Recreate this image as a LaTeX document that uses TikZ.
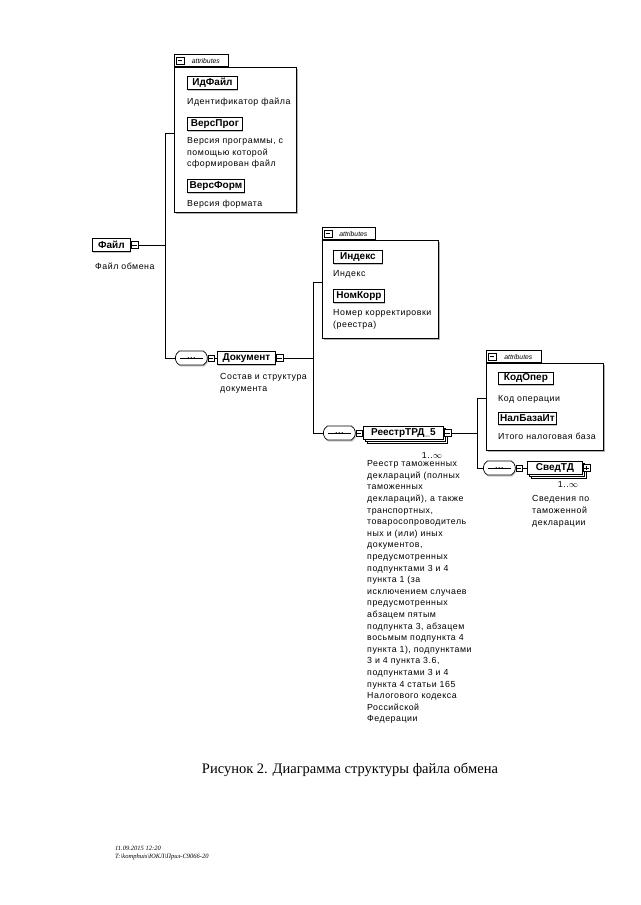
\documentclass[tikz,border=0pt]{standalone}
\usepackage{fontspec}
\setmainfont{Liberation Sans}
\newfontfamily\serifcap{Liberation Serif}
\newfontfamily\descfamily{Liberation Sans}[LetterSpace=6]
\usetikzlibrary{shapes.misc,shadows}
\newcommand\descfont{\descfamily\fontsize{8.8}{11.6}\selectfont}
\newcommand\elemfont{\bfseries\fontsize{10}{11}\selectfont}
\newcommand\tabfont{\itshape\fontsize{6.8}{8}\selectfont}
\begin{document}
\begin{tikzpicture}[x=1pt,y=-1pt,
  conn/.style={line width=0.7pt},
  elem/.style={draw, line width=0.8pt, fill=white, font=\elemfont, inner sep=0pt,
    minimum height=13pt, anchor=west,
    drop shadow={shadow xshift=1pt, shadow yshift=-1.5pt, fill=black!45}},
  multi/.style={draw, line width=0.8pt, fill=white, font=\elemfont, inner sep=0pt,
    minimum height=13pt, anchor=west,
    double copy shadow={shadow xshift=2pt, shadow yshift=-2pt}},
  attrnode/.style={draw, line width=0.9pt, fill=white, font=\elemfont, inner sep=0pt,
    minimum height=12.5pt, anchor=west,
    drop shadow={shadow xshift=1pt, shadow yshift=-1.5pt, fill=black!45}},
  desc/.style={font=\descfont, align=left, anchor=north west, inner sep=0pt},
  grp/.style={draw, line width=0.7pt, fill=white, inner sep=0pt, anchor=north west,
    drop shadow={shadow xshift=1.5pt, shadow yshift=-1.5pt, fill=black!60}},
  grptab/.style={draw, line width=0.7pt, fill=white, inner sep=0pt, anchor=south west,
    minimum height=12pt, font=\tabfont},
  btn/.style={draw, line width=0.5pt, fill=white, minimum size=7pt, inner sep=0pt, anchor=west},
  minusbtn/.style={btn, path picture={\draw ([xshift=1.3pt]path picture bounding box.west) -- ([xshift=-1.3pt]path picture bounding box.east);}},
  plusbtn/.style={btn, path picture={\draw ([xshift=1.3pt]path picture bounding box.west) -- ([xshift=-1.3pt]path picture bounding box.east);
      \draw ([yshift=-1.3pt]path picture bounding box.north) -- ([yshift=1.3pt]path picture bounding box.south);}},
  seq/.style={rounded rectangle, rounded rectangle arc length=120, draw, line width=0.7pt, fill=white,
    minimum width=32pt, minimum height=14pt, inner sep=0pt, anchor=west,
    drop shadow={shadow xshift=1pt, shadow yshift=-1.5pt, fill=black!40}},
  mult/.style={font=\descfont, inner sep=0pt}
]
\useasboundingbox[fill=white] (0,0) rectangle (640,905);

% ---------- root element
\node[elem, minimum width=38pt] (file) at (92,245) {Файл};
\node[minusbtn] (fileb) at (file.east) {};
\node[desc] (filed) at (95,262.5) {Файл обмена};

% ---------- attributes of Файл
\node[grp, minimum width=122pt, minimum height=145pt] (ag1) at (174,67) {};
\node[grptab, minimum width=54pt] (ag1t) at (ag1.north west) {\hspace*{9pt}attributes};
\node[minusbtn, minimum size=7.5pt] (ag1i) at ([xshift=2pt]ag1t.west) {};
\node[attrnode, minimum width=50pt] (idf) at (187,83) {ИдФайл};
\node[desc] (idfd) at (187,97.5) {Идентификатор файла};
\node[attrnode, minimum width=55pt] (vp) at (187,124) {ВерсПрог};
\node[desc] (vpd) at (187,137.5) {Версия программы, с\\помощью которой\\сформирован файл};
\node[attrnode, minimum width=57pt] (vf) at (187,186) {ВерсФорм};
\node[desc] (vfd) at (187,199.5) {Версия формата};

\coordinate (v1t) at (165,133);
\coordinate (v1b) at (165,358);

% ---------- Документ
\node[seq] (seq1) at (175,358) {};
\node[minusbtn, minimum size=6pt] (seq1b) at (seq1.east) {};
\node[elem, minimum width=58pt] (doc) at (217,358) {Документ};
\node[minusbtn] (docb) at (doc.east) {};
\node[desc] (docd) at (220,373.5) {Состав и структура\\документа};

% ---------- attributes of Документ
\node[grp, minimum width=116pt, minimum height=98pt] (ag2) at (322,240) {};
\node[grptab, minimum width=53pt] (ag2t) at (ag2.north west) {\hspace*{9pt}attributes};
\node[minusbtn, minimum size=7.5pt] (ag2i) at ([xshift=2pt]ag2t.west) {};
\node[attrnode, minimum width=49pt] (idx) at (333,257) {Индекс};
\node[desc] (idxd) at (333,270.5) {Индекс};
\node[attrnode, minimum width=51pt] (nk) at (333,296) {НомКорр};
\node[desc] (nkd) at (333,309.5) {Номер корректировки\\(реестра)};

\coordinate (v2t) at (313,282);
\coordinate (v2b) at (313,433);

% ---------- РеестрТРД_5
\node[seq] (seq2) at (323,433) {};
\node[minusbtn, minimum size=6pt] (seq2b) at (seq2.east) {};
\node[multi, minimum width=80pt] (reestr) at (363,433) {РеестрТРД\_5};
\node[minusbtn] (reestrb) at (reestr.east) {};
\node[mult] (reestrm) at (432,455) {1..$\infty$};
\node[desc] (reestrd) at (367,460.5) {Реестр таможенных\\деклараций (полных\\таможенных\\деклараций), а также\\транспортных,\\товаросопроводитель\\ных и (или) иных\\документов,\\предусмотренных\\подпунктами 3 и 4\\пункта 1 (за\\исключением случаев\\предусмотренных\\абзацем пятым\\подпункта 3, абзацем\\восьмым подпункта 4\\пункта 1), подпунктами\\3 и 4 пункта 3.6,\\подпунктами 3 и 4\\пункта 4 статьи 165\\Налогового кодекса\\Российской\\Федерации};

% ---------- attributes of РеестрТРД_5
\node[grp, minimum width=117pt, minimum height=87pt] (ag3) at (486,363) {};
\node[grptab, minimum width=55pt] (ag3t) at (ag3.north west) {\hspace*{9pt}attributes};
\node[minusbtn, minimum size=7.5pt] (ag3i) at ([xshift=2pt]ag3t.west) {};
\node[attrnode, minimum width=55pt] (kod) at (498,378.5) {КодОпер};
\node[desc] (kodd) at (498,395.5) {Код операции};
\node[attrnode, minimum width=58pt] (nal) at (498,418.5) {НалБазаИт};
\node[desc] (nald) at (498,432.5) {Итого налоговая база};

\coordinate (v3t) at (477,398);
\coordinate (v3b) at (477,468);

% ---------- СведТД
\node[seq] (seq3) at (483,468) {};
\node[minusbtn, minimum size=6pt] (seq3b) at (seq3.east) {};
\node[multi, minimum width=55pt] (svtd) at (527,468) {СведТД};
\node[plusbtn] (svtdb) at (svtd.east) {};
\node[mult] (svtdm) at (568,484) {1..$\infty$};
\node[desc] (svtdd) at (532,495.5) {Сведения по\\таможенной\\декларации};

% ---------- sequence dots
\foreach \s in {seq1,seq2,seq3}{
  \draw[line width=0.5pt] ([xshift=5pt]\s.west) -- ([xshift=-5pt]\s.east);
  \foreach \dx in {-3,0,3} \fill ([xshift=\dx pt]\s.center) circle (0.9pt);
}

% ---------- connectors
\draw[conn] (fileb.east) -- (fileb.east -| v1t);
\draw[conn] (v1t) -- (v1b);
\draw[conn] (v1t) -- (ag1.west |- v1t);
\draw[conn] (v1b) -- (seq1.west);
\draw[conn] (seq1b.east) -- (doc.west);
\draw[conn] (docb.east) -- (docb.east -| v2t);
\draw[conn] (v2t) -- (v2b);
\draw[conn] (v2t) -- (ag2.west |- v2t);
\draw[conn] (v2b) -- (seq2.west);
\draw[conn] (seq2b.east) -- (reestr.west);
\draw[conn] (reestrb.east) -- (reestrb.east -| v3t);
\draw[conn] (v3t) -- (v3b);
\draw[conn] (v3t) -- (ag3.west |- v3t);
\draw[conn] (v3b) -- (seq3.west);
\draw[conn] (seq3b.east) -- (svtd.west);

% ---------- caption and footer
\node[font=\serifcap\fontsize{14.5}{16}\selectfont] (cap) at (350,770) {Рисунок 2. Диаграмма структуры файла обмена};
\node[font=\serifcap\itshape\fontsize{6.5}{7.5}\selectfont, anchor=north west, align=left, inner sep=0pt] (foot) at (115,846)
  {11.09.2015 12:20\\T:\textbackslash komphuis\textbackslash ЮКЛ\textbackslash Прил-С9066-20};
\end{tikzpicture}
\end{document}
